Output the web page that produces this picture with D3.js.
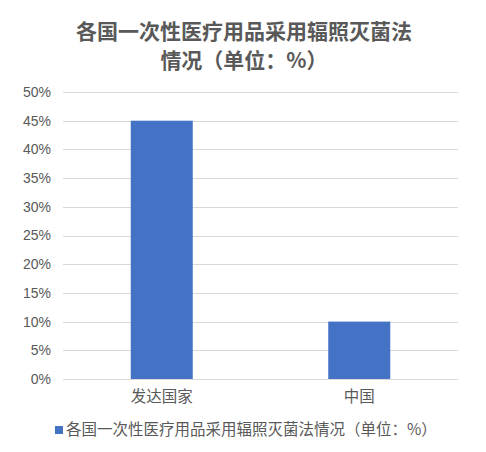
<!DOCTYPE html>
<html><head><meta charset="utf-8">
<script src="https://cdn.jsdelivr.net/npm/d3@7"></script>
<style>body{margin:0;background:#fff}svg{display:block}</style>
</head><body>
<svg id="c" width="486" height="452"></svg>
<script>
const titleLines = ["各国一次性医疗用品采用辐照灭菌法", "情况（单位：%）"];
const categories = ["发达国家", "中国"];
const values = [45, 10];
const yTicks = [0, 5, 10, 15, 20, 25, 30, 35, 40, 45, 50];
const seriesName = "各国一次性医疗用品采用辐照灭菌法情况（单位：%）";

const svg = d3.select("#c");
const font = "'Noto Sans CJK SC', 'Liberation Sans', sans-serif";
const grey = "#595959";
const x = d3.scaleBand().domain(categories).range([63, 458]).paddingInner(0.686).paddingOuter(0.343);
const y = d3.scaleLinear().domain([0, 50]).range([379, 92]);

svg.append("g").selectAll("text").data(titleLines).join("text")
  .attr("x", 244).attr("y", (d,i)=>32+i*29).attr("dy","0.35em").attr("text-anchor","middle")
  .attr("font-family", font).attr("font-size", 21).attr("font-weight","bold").attr("fill", grey)
  .text(d=>d);

svg.append("g").selectAll("line").data(yTicks).join("line")
  .attr("x1", 63).attr("x2", 458).attr("y1", d=>Math.round(y(d))+0.5).attr("y2", d=>Math.round(y(d))+0.5)
  .attr("stroke", "#d9d9d9").attr("stroke-width", 1);

svg.append("g").selectAll("text").data(yTicks).join("text")
  .attr("x", 51).attr("y", d=>y(d)).attr("dy","0.35em").attr("text-anchor","end")
  .attr("font-family", "'Liberation Sans', sans-serif").attr("font-size", 14).attr("fill", grey)
  .text(d=>d+"%");

svg.append("g").selectAll("rect").data(values).join("rect")
  .attr("x", (d,i)=>x(categories[i])).attr("width", x.bandwidth())
  .attr("y", d=>y(d)).attr("height", d=>y(0)-y(d)).attr("fill", "#4472c4");

svg.append("g").selectAll("text").data(categories).join("text")
  .attr("x", d=>x(d)+x.bandwidth()/2).attr("y", 397).attr("dy","0.35em").attr("text-anchor","middle")
  .attr("font-family", font).attr("font-size", 15.5).attr("fill", grey)
  .text(d=>d);

const lg = svg.append("g");
lg.append("rect").attr("x", 55).attr("y", 426).attr("width", 8).attr("height", 8).attr("fill", "#4472c4");
lg.append("text").attr("x", 66).attr("y", 430).attr("dy","0.35em")
  .attr("font-family", font).attr("font-size", 15.5).attr("fill", grey).text(seriesName);
</script>
</body></html>
